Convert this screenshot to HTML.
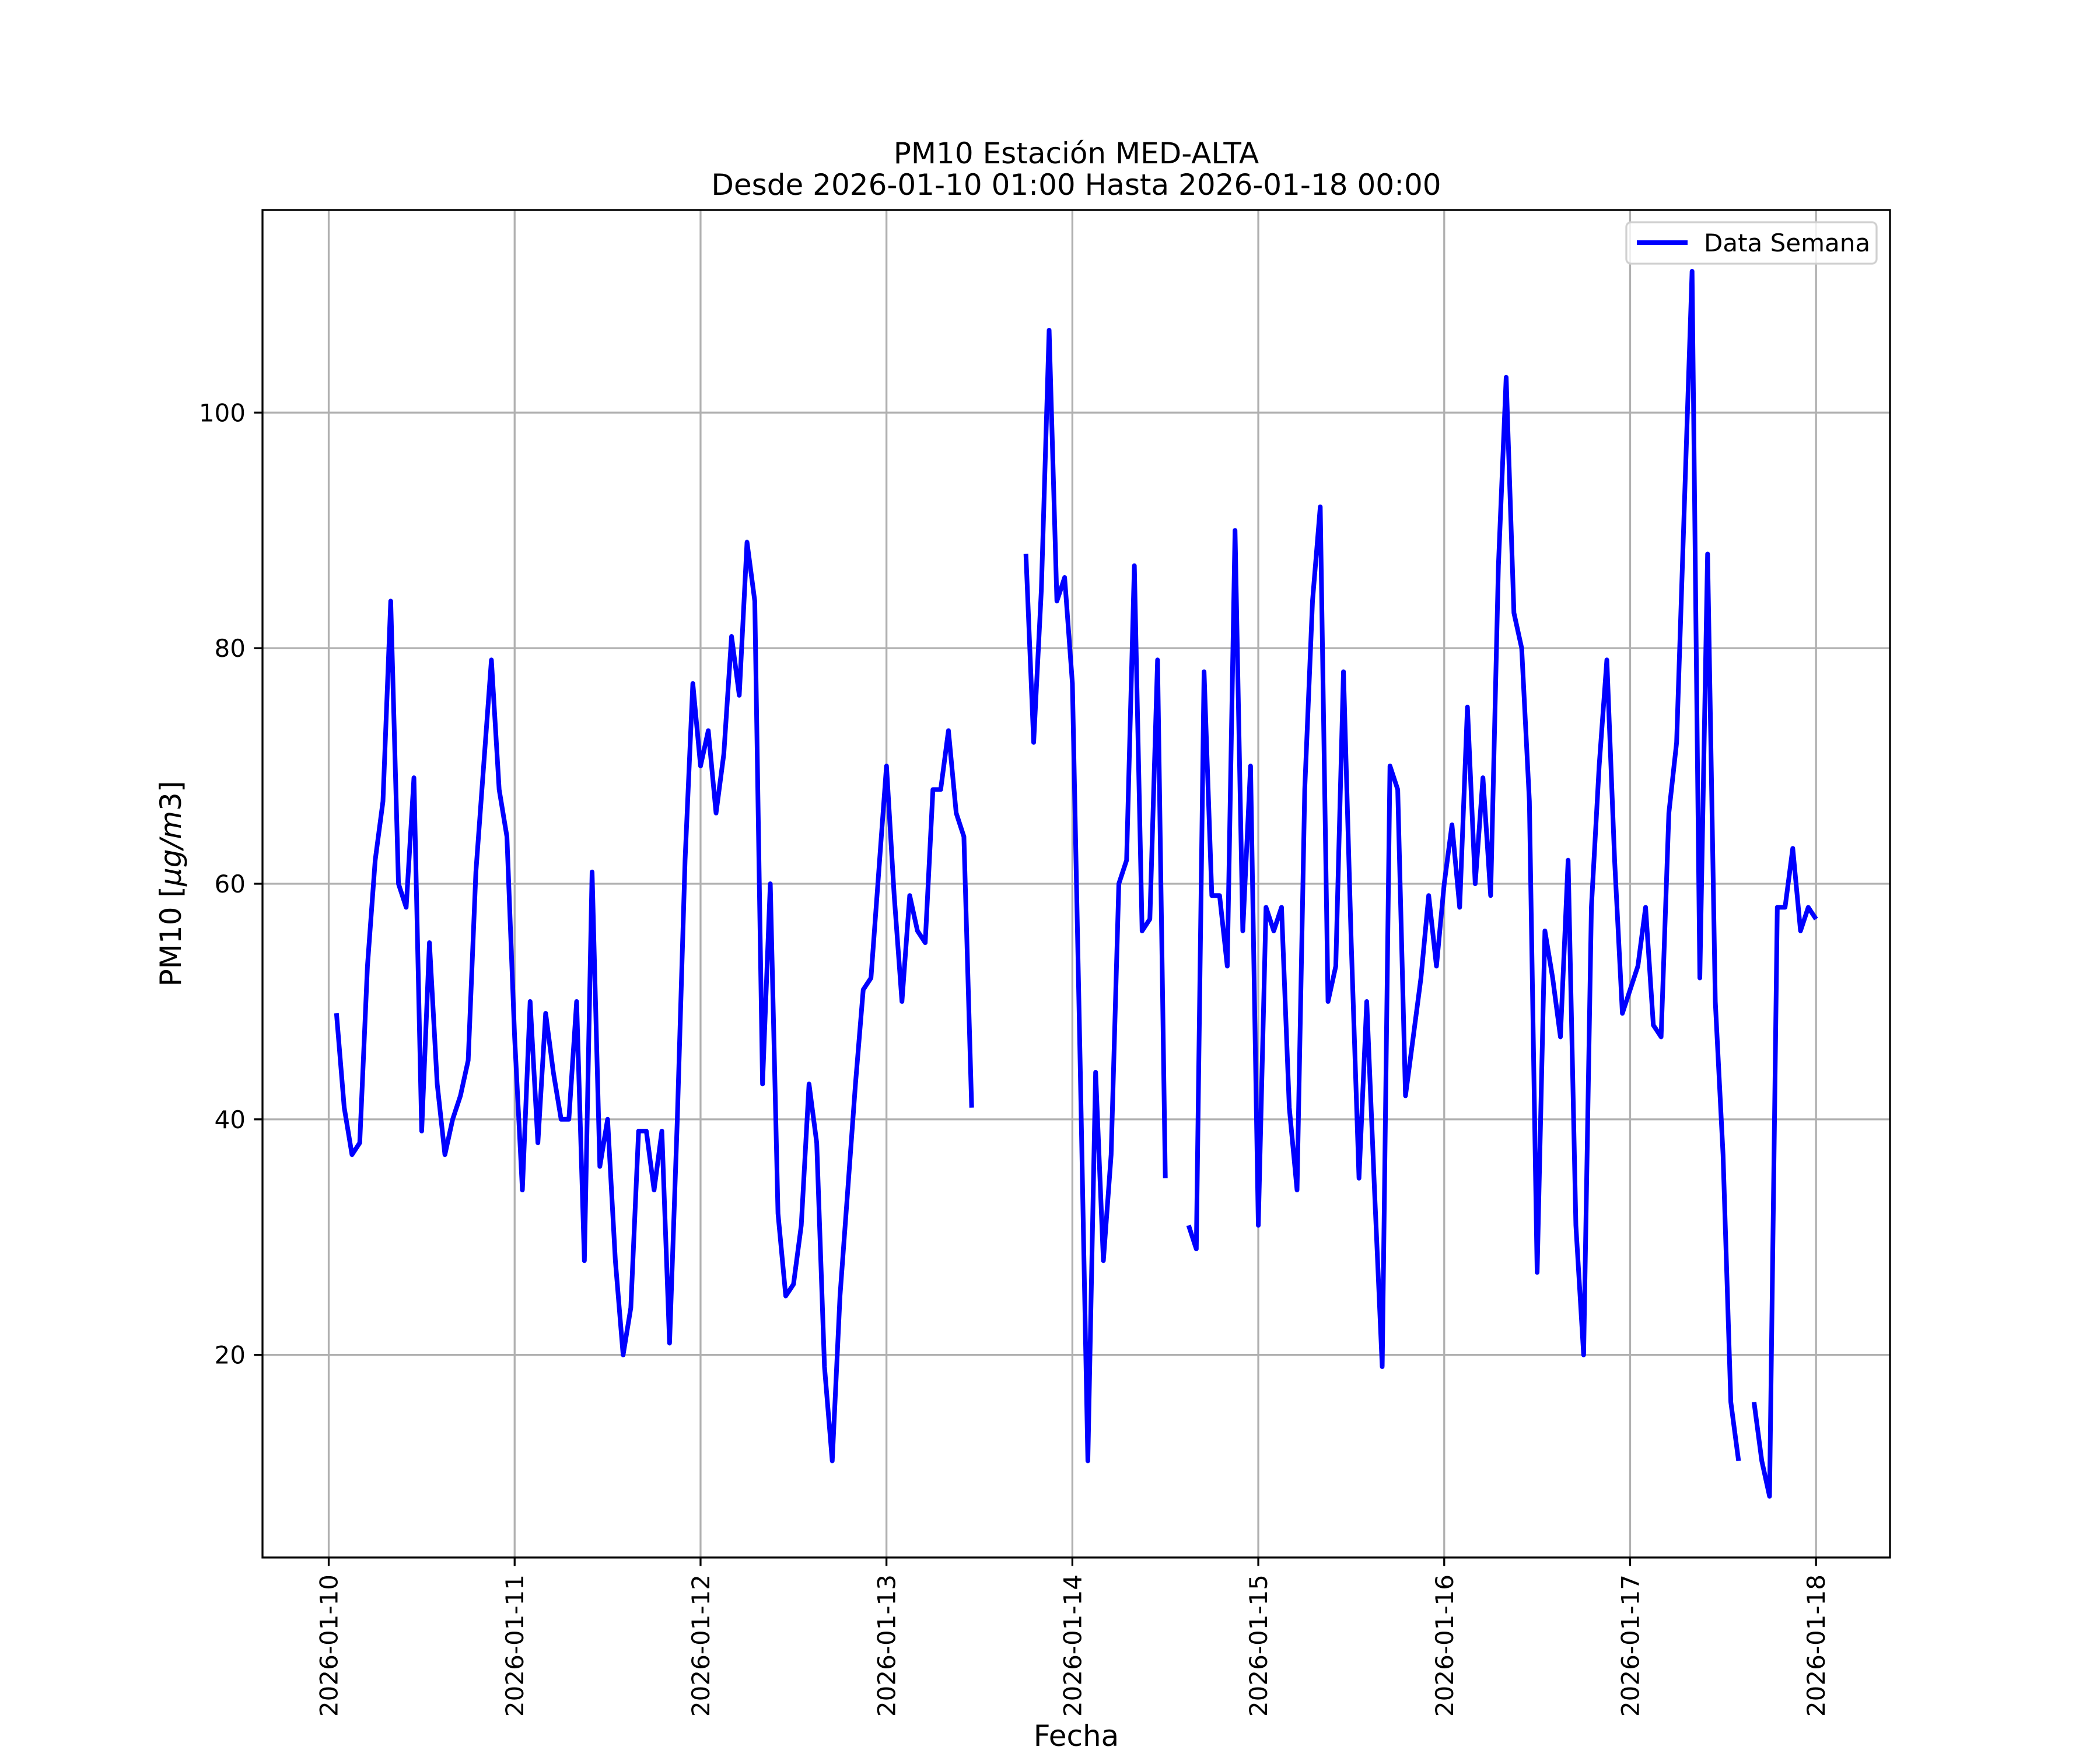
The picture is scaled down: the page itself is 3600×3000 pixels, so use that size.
<!DOCTYPE html>
<html><head><meta charset="utf-8"><style>
html,body{margin:0;padding:0;background:#fff;}
svg{display:block;font-family:"DejaVu Sans","Liberation Sans",sans-serif;}
</style></head><body>
<svg id="chart" width="3600" height="3000" viewBox="0 0 3600 3000" xmlns="http://www.w3.org/2000/svg">
<rect width="3600" height="3000" fill="#fff"/>
<text x="1845" y="280" font-size="50" text-anchor="middle">PM10 Estación MED-ALTA</text>
<text x="1845" y="334" font-size="50" text-anchor="middle">Desde 2026-01-10 01:00 Hasta 2026-01-18 00:00</text>
<g id="grid"></g>
<g id="series"></g>
<rect x="450" y="360" width="2790" height="2310" fill="none" stroke="#000" stroke-width="3.3"/>
<g id="xticks"></g>
<g id="yticks"></g>
<text x="1845" y="2993" font-size="50" text-anchor="middle">Fecha</text>
<text transform="translate(310,1515) rotate(-90)" font-size="50" text-anchor="middle">PM10 [<tspan font-style="italic">μg</tspan><tspan font-style="italic">/m</tspan>3]</text>
<g>
<rect x="2788" y="381" width="429" height="71" rx="8" fill="#fff" fill-opacity="0.8" stroke="#d0d0d0" stroke-width="3.3"/>
<line x1="2806" y1="416" x2="2893" y2="416" stroke="#0000ff" stroke-width="8"/>
<text x="2921" y="431" font-size="42">Data Semana</text>
</g>
</svg>
<script>
const tickLabels = ["2026-01-10","2026-01-11","2026-01-12","2026-01-13","2026-01-14","2026-01-15","2026-01-16","2026-01-17","2026-01-18"];
const yTicks = [20,40,60,80,100];
const values = [
49,41,37,38,53,62,67,84,60,58,69,39,55,43,37,40,42,45,61,70,79,68,64,47,
34,50,38,49,44,40,40,50,28,61,36,40,28,20,24,39,39,34,39,21,40,62,77,70,
73,66,71,81,76,89,84,43,60,32,25,26,31,43,38,19,11,25,34,43,51,52,61,70,
59,50,59,56,55,68,68,73,66,64,41,null,null,null,null,null,null,88,72,85,107,84,86,77,
45,11,44,28,37,60,62,87,56,57,79,35,null,null,31,29,78,59,59,53,90,56,70,31,
58,56,58,41,34,68,84,92,50,53,78,55,35,50,34,19,70,68,42,47,52,59,53,60,
65,58,75,60,69,59,87,103,83,80,67,27,56,52,47,62,31,20,58,70,79,62,49,51,
53,58,48,47,66,72,92,112,52,88,50,37,16,11,null,16,11,8,58,58,63,56,58,57
];
const NS="http://www.w3.org/2000/svg";
const X0=450,X1=3240,Y0=360,Y1=2670;
const n=values.length;
const tFirst=1/24, tLast=n/24;
const mx=(tLast-tFirst)*0.05;
const xmin=tFirst-mx, xmax=tLast+mx;
const nums=values.filter(v=>v!==null);
const vmin=Math.min(...nums), vmax=Math.max(...nums), my=(vmax-vmin)*0.05;
const ymin=vmin-my, ymax=vmax+my;
function xs(d){return X0+(d-xmin)/(xmax-xmin)*(X1-X0);}
function ys(v){return Y1-(v-ymin)/(ymax-ymin)*(Y1-Y0);}
function mk(tag,attrs,parent){const e=document.createElementNS(NS,tag);for(const k in attrs)e.setAttribute(k,attrs[k]);parent.appendChild(e);return e;}
const grid=document.getElementById('grid'),xt=document.getElementById('xticks'),yt=document.getElementById('yticks');
tickLabels.forEach((lab,i)=>{
  const x=xs(i);
  const g=mk('line',{x1:x,y1:Y0,x2:x,y2:Y1,stroke:'#b0b0b0','stroke-width':3.3},grid);
  
  
  const t=mk('line',{x1:x,y1:Y1,x2:x,y2:Y1+14.6,stroke:'#000','stroke-width':3.3},xt);
  
  
  const tx=mk('text',{transform:`translate(${x+15},${Y1+29}) rotate(-90)`,'font-size':42,'text-anchor':'end'},xt);
  tx.textContent=lab;
  
  
});
yTicks.forEach(v=>{
  const y=ys(v);
  const g=mk('line',{x1:X0,y1:y,x2:X1,y2:y,stroke:'#b0b0b0','stroke-width':3.3},grid);
  
  
  const t=mk('line',{x1:X0-14.6,y1:y,x2:X0,y2:y,stroke:'#000','stroke-width':3.3},yt);
  
  
  const tx=mk('text',{x:X0-29,y:y+15,'font-size':42,'text-anchor':'end'},yt);
  tx.textContent=v;
  
  
});
let d='',pen=false;
values.forEach((v,i)=>{
  if(v===null){pen=false;return;}
  const x=xs((i+1)/24).toFixed(1),y=ys(v).toFixed(1);
  d+=(pen?'L':'M')+x+' '+y+' ';pen=true;
});
const p=mk('path',{d:d,fill:'none',stroke:'#0000ff','stroke-width':8,'stroke-linejoin':'round','stroke-linecap':'butt'},document.getElementById('series'));


</script>
</body></html>
